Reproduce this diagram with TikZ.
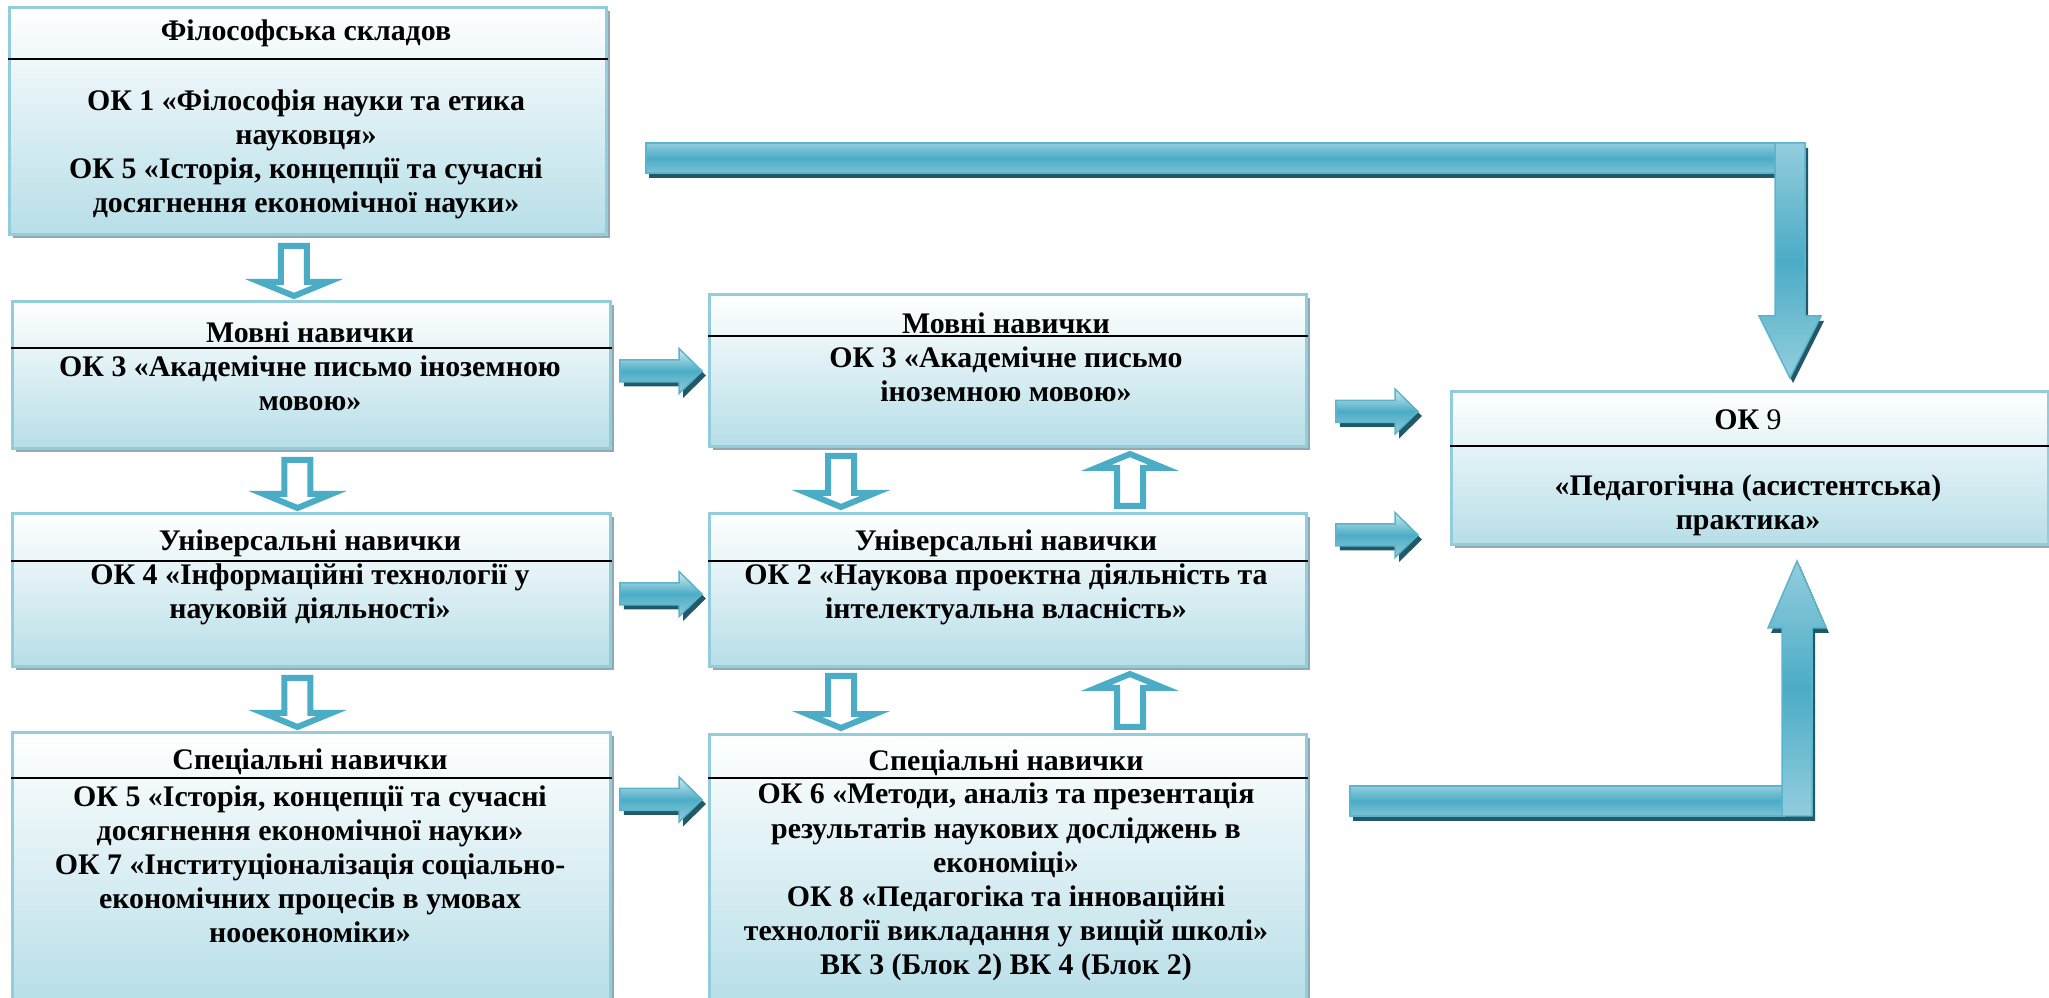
\documentclass[tikz,border=0pt]{standalone}
\usepackage{fontspec}
\setmainfont{Liberation Serif}
\usetikzlibrary{calc,shadows}

\definecolor{boxline}{HTML}{92CDDC}
\definecolor{boxfill}{HTML}{B7DEE8}
\definecolor{boxshade}{HTML}{93A8AF}
\definecolor{arrowmid}{HTML}{4BACC6}
\definecolor{arrowlight}{HTML}{93CDDD}
\definecolor{arrowline}{HTML}{5AB4CC}
\definecolor{arrowdark}{HTML}{215968}

\tikzset{
  box/.style={draw=boxline, line width=0.3mm, top color=white, bottom color=boxfill,
    anchor=north west, inner sep=0pt,
    drop shadow={shadow xshift=0.35mm, shadow yshift=-0.4mm, fill=boxshade, opacity=1}},
  txt/.style={align=center, inner sep=0pt, font=\fontsize{8.5}{9.7}\selectfont\bfseries},
  split/.style={line width=0.25mm},
  hollowdown/.style={draw=arrowmid, fill=white, line width=0.6mm,
    to path={let \p1=(\tikztostart), \p2=(\tikztotarget) in
      (\x1-1.3mm,\y1) -- (\x1-1.3mm,\y2+1.4mm) -- (\x1-3.4mm,\y2+1.4mm) -- (\x1,\y2)
      -- (\x1+3.4mm,\y2+1.4mm) -- (\x1+1.3mm,\y2+1.4mm) -- (\x1+1.3mm,\y1) -- cycle}},
  hollowup/.style={draw=arrowmid, fill=white, line width=0.6mm,
    to path={let \p1=(\tikztostart), \p2=(\tikztotarget) in
      (\x1-1.3mm,\y1) -- (\x1-1.3mm,\y2-1.4mm) -- (\x1-3.4mm,\y2-1.4mm) -- (\x1,\y2)
      -- (\x1+3.4mm,\y2-1.4mm) -- (\x1+1.3mm,\y2-1.4mm) -- (\x1+1.3mm,\y1) -- cycle}},
  fat/.style={top color=arrowlight!40!white, bottom color=arrowlight, middle color=arrowmid,
    draw=arrowline, line width=0.15mm,
    drop shadow={shadow xshift=0.4mm, shadow yshift=-0.45mm, fill=arrowdark, opacity=1},
    to path={let \p1=(\tikztostart), \p2=(\tikztotarget) in
      (\x1,\y1+1.1mm) -- (\x2-2.3mm,\y1+1.1mm) -- (\x2-2.3mm,\y1+2.25mm) -- (\x2,\y1)
      -- (\x2-2.3mm,\y1-2.25mm) -- (\x2-2.3mm,\y1-1.1mm) -- (\x1,\y1-1.1mm) -- cycle}},
  hbar/.style={top color=arrowlight, bottom color=arrowlight!70!arrowmid, middle color=arrowmid,
    draw=arrowline, line width=0.15mm,
    drop shadow={shadow xshift=0.3mm, shadow yshift=-0.5mm, fill=arrowdark, opacity=1},
    to path={let \p1=(\tikztostart), \p2=(\tikztotarget) in
      (\x1,\y1+1.5mm) rectangle (\x2,\y1-1.5mm)}},
  vdown/.style={top color=arrowlight, bottom color=arrowlight, middle color=arrowmid,
    draw=arrowline, line width=0.15mm,
    drop shadow={shadow xshift=0.3mm, shadow yshift=-0.5mm, fill=arrowdark, opacity=1},
    to path={let \p1=(\tikztostart), \p2=(\tikztotarget) in
      (\x2-1.5mm,\y1+1.5mm) -- (\x2-1.5mm,\y2+6.2mm) -- (\x2-3.1mm,\y2+6.2mm) -- (\x2,\y2)
      -- (\x2+3.1mm,\y2+6.2mm) -- (\x2+1.5mm,\y2+6.2mm) -- (\x2+1.5mm,\y1+1.5mm) -- cycle}},
  vup/.style={top color=arrowlight, bottom color=arrowlight, middle color=arrowmid,
    draw=arrowline, line width=0.15mm,
    drop shadow={shadow xshift=0.3mm, shadow yshift=-0.5mm, fill=arrowdark, opacity=1},
    to path={let \p1=(\tikztostart), \p2=(\tikztotarget) in
      (\x2-1.5mm,\y1-1.5mm) -- (\x2-1.5mm,\y2-6.7mm) -- (\x2-2.9mm,\y2-6.7mm) -- (\x2,\y2)
      -- (\x2+2.9mm,\y2-6.7mm) -- (\x2+1.5mm,\y2-6.7mm) -- (\x2+1.5mm,\y1-1.5mm) -- cycle}}
}

\begin{document}
\begin{tikzpicture}[x=0.1mm,y=-0.1mm]
\useasboundingbox (0,0) rectangle (2049,998);

% boxes
\node [box, minimum width=59.7mm, minimum height=22.7mm] (fil) at (8,6) {};
\node [box, minimum width=59.8mm, minimum height=14.7mm] (movL) at (11,300) {};
\node [box, minimum width=59.8mm, minimum height=15.3mm] (uniL) at (11,512) {};
\node [box, minimum width=59.8mm, minimum height=27.2mm] (spcL) at (11,731) {};
\node [box, minimum width=59.7mm, minimum height=15.2mm] (movM) at (708,293) {};
\node [box, minimum width=59.7mm, minimum height=15.3mm] (uniM) at (708,512) {};
\node [box, minimum width=59.7mm, minimum height=27.0mm] (spcM) at (708,733) {};
\node [box, minimum width=59.7mm, minimum height=15.3mm] (ok9) at (1450,390) {};

\foreach \b/\d in {fil/53, movL/48, uniL/49, spcL/47, movM/43, uniM/49, spcM/45, ok9/56}
  \draw [split] ([shift={(0,\d)}]\b.north west) -- ([shift={(0,\d)}]\b.north east);

% headers
\node [txt] (filh) at (306,33) {Філософська складов};
\node [txt] (movLh) at (310,332) {Мовні навички};
\node [txt] (uniLh) at (310,543) {Універсальні навички};
\node [txt] (spcLh) at (310,762) {Спеціальні навички};
\node [txt] (movMh) at (1006,323) {Мовні навички};
\node [txt] (uniMh) at (1006,543) {Універсальні навички};
\node [txt] (spcMh) at (1006,763) {Спеціальні навички};
\node [txt] (ok9h) at (1748,420) {ОК {\mdseries 9}};

% texts
\node [txt] (filb) at (306,154) {ОК 1 «Філософія науки та етика\\науковця»\\
  ОК 5 «Історія, концепції та сучасні\\досягнення економічної науки»};
\node [txt] (movLb) at (310,383) {ОК 3 «Академічне письмо іноземною\\мовою»};
\node [txt] (uniLb) at (310,594) {ОК 4 «Інформаційні технології у\\науковій діяльності»};
\node [txt] (spcLb) at (310,864) {ОК 5 «Історія, концепції та сучасні\\
  досягнення економічної науки»\\ОК 7 «Інституціоналізація соціально-\\
  економічних процесів в умовах\\нооекономіки»};
\node [txt] (movMb) at (1006,374) {ОК 3 «Академічне письмо\\іноземною мовою»};
\node [txt] (uniMb) at (1006,594) {ОК 2 «Наукова проектна діяльність та\\інтелектуальна власність»};
\node [txt] (spcMb) at (1006,882) {ОК 6 «Методи, аналіз та презентація\\
  результатів наукових досліджень в\\економіці»\\ОК 8 «Педагогіка та інноваційні\\
  технології викладання у вищій школі»\\ВК 3 (Блок 2) ВК 4 (Блок 2)};
\node [txt] (ok9b) at (1748,505) {«Педагогічна (асистентська)\\практика»};

% hollow arrows
\draw [hollowdown] ([shift={(-14,10)}]fil.south) to ([shift={(-14,-4)}]movL.north);
\draw [hollowdown] ([shift={(-14,10)}]movL.south) to ([shift={(-14,-4)}]uniL.north);
\draw [hollowdown] ([shift={(-14,10)}]uniL.south) to ([shift={(-14,-4)}]spcL.north);
\draw [hollowdown] ([shift={(-167,8)}]movM.south) to ([shift={(-167,-5)}]uniM.north);
\draw [hollowdown] ([shift={(-167,8)}]uniM.south) to ([shift={(-167,-5)}]spcM.north);
\draw [hollowup] ([shift={(122,-6)}]uniM.north) to ([shift={(122,6)}]movM.south);
\draw [hollowup] ([shift={(122,-6)}]spcM.north) to ([shift={(122,6)}]uniM.south);

% solid arrows
\draw [fat] ([shift={(8,-4)}]movL.east) to ([shift={(-6,0)}]movM.west);
\draw [fat] ([shift={(8,4)}]uniL.east) to ([shift={(-6,0)}]uniM.west);
\draw [fat] ([shift={(8,-69)}]spcL.east) to ([shift={(-6,0)}]spcM.west);
\draw [fat] ([shift={(28,41)}]movM.east) to ([shift={(-32,0)}]ok9.west);
\draw [fat] ([shift={(28,-55)}]uniM.east) to ([shift={(-32,0)}]ok9.west);

% big arrows
\coordinate (topl) at (646,158);
\coordinate (topc) at (1786,158);
\coordinate (botl) at (1350,801);
\coordinate (botc) at (1795,801);
\draw [hbar] (topl) to (topc);
\draw [vdown] (topc) to ([shift={(40,-12)}]ok9.north);
\draw [hbar] (botl) to (botc);
\draw [vup] (botc) to ([shift={(47,15)}]ok9.south);
\end{tikzpicture}
\end{document}
